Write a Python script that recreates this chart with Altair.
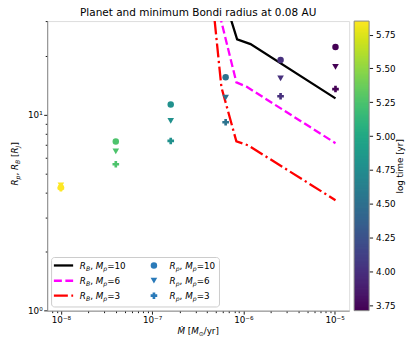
import altair as alt
import pandas as pd

# ---------------- data ----------------
mdot = [1.0e-8, 4.0e-8, 1.6e-7, 6.4e-7, 2.56e-6, 1.024e-5]
log_time = [5.85, 5.25, 4.78, 4.52, 4.00, 3.71]
rp_m10 = [4.25, 7.30, 11.25, 15.5, 19.0, 22.1]
rp_m6 = [4.35, 6.50, 9.30, 12.2, 15.3, 17.5]
rp_m3 = [4.22, 5.58, 7.34, 9.14, 12.4, 13.5]

rb10_mdot = [5.62e-7, 8.55e-7, 1.20e-6, 1.024e-5]
rb10 = [45.4, 24.2, 22.9, 12.1]
rb6_mdot = [4.47e-7, 8.39e-7, 1.08e-6, 1.024e-5]
rb6 = [47.9, 14.6, 13.9, 7.15]
rb3_mdot = [4.57e-7, 5.75e-7, 8.39e-7, 1.13e-6, 1.024e-5]
rb3 = [39.6, 13.8, 7.30, 6.97, 3.66]

LT_MIN, LT_MAX = 3.71, 5.85
cb_ticks = [3.75, 4.00, 4.25, 4.50, 4.75, 5.00, 5.25, 5.50, 5.75]
TITLE = "Planet and minimum Bondi radius at 0.08 AU"

# ---------------- layout ----------------
W, H = 302.7, 290.3
FONT = "DejaVu Sans"
FS = 8.8

x_ticks = [m * 10 ** e for e in range(-9, -4) for m in range(1, 10)]
x_ticks = [v for v in x_ticks if 10 ** -8.15 <= v <= 10 ** -4.84]
y_ticks = [1, 2, 3, 4, 5, 6, 7, 8, 9, 10, 20, 30]

major_test = "abs(log(datum.value)/LN10 - round(log(datum.value)/LN10)) < 0.001"
x_label = ("abs(datum.value/1e-8-1)<0.001 ? '10⁻⁸' : abs(datum.value/1e-7-1)<0.001 ? '10⁻⁷' : "
           "abs(datum.value/1e-6-1)<0.001 ? '10⁻⁶' : abs(datum.value/1e-5-1)<0.001 ? '10⁻⁵' : ''")
y_label = "abs(datum.value-1)<0.001 ? '10⁰' : abs(datum.value-10)<0.001 ? '10¹' : ''"

axis_common = dict(grid=False, title=None, domainColor="#888", domainWidth=1,
                   tickColor="black", tickWidth=0.9,
                   tickSize={"condition": {"test": major_test, "value": 3.5}, "value": 2},
                   labelFont=FONT, labelFontSize=FS, labelColor="black", labelPadding=1.5,
                   labelOverlap=False)

X = alt.X("mdot:Q", scale=alt.Scale(type="log", domain=[10 ** -8.15, 10 ** -4.84], nice=False),
          axis=alt.Axis(values=x_ticks, labelExpr=x_label, **axis_common))
Y = alt.Y("r:Q", scale=alt.Scale(type="log", domain=[1, 30], nice=False),
          axis=alt.Axis(values=y_ticks, labelExpr=y_label, **axis_common))

color_scale = alt.Scale(scheme="viridis", domain=[LT_MIN, LT_MAX], nice=False, zero=False)


def line_layer(xs, ys, color, dash):
    df = pd.DataFrame({"mdot": xs, "r": ys})
    kw = dict(color=color, strokeWidth=2.3, clip=True)
    if dash:
        kw["strokeDash"] = dash
    return alt.Chart(df).mark_line(**kw).encode(x=X, y=Y)


def point_layer(ys, shape, size):
    df = pd.DataFrame({"mdot": mdot, "r": ys, "lt": log_time})
    return alt.Chart(df).mark_point(filled=True, opacity=1, shape=shape, size=size).encode(
        x=X, y=Y, color=alt.Color("lt:Q", scale=color_scale, legend=None))


lines = [
    line_layer(rb10_mdot, rb10, "black", None),
    line_layer(rb6_mdot, rb6, "magenta", [8, 3.5]),
    line_layer(rb3_mdot, rb3, "red", [14, 3.5, 2.2, 3.5]),
]
points = [
    point_layer(rp_m10, "circle", 42),
    point_layer(rp_m6, "triangle-down", 44),
    point_layer(rp_m3, "cross", 44),
]

# ---------------- rich text (math-like labels) ----------------
WID = {"R": 0.695, "B": 0.686, "M": 0.863, "p": 0.635, "J": 0.295, ",": 0.318, " ": 0.318,
       "=": 0.838, "[": 0.39, "]": 0.39, "/": 0.337, "y": 0.592, "r": 0.411, "⊙": 0.80,
       "Ṁ": 0.863}


def tw(s, size):
    return sum(WID.get(c, 0.636) for c in s) * size


def rich(pieces, x, y, size, vertical=False):
    out = []
    for t, it, sub in pieces:
        s = size * 0.7 if sub else size
        off = size * 0.22 if sub else 0
        lead = tw(t[: len(t) - len(t.lstrip())], s)
        body = t.strip()
        if vertical:
            out.append(dict(px=x + off, py=y - lead, t=body, fs=s, it=it, rot=True))
            y -= tw(t, s)
        else:
            out.append(dict(px=x + lead, py=y + off, t=body, fs=s, it=it, rot=False))
            x += tw(t, s)
    return out


def width_of(pieces, size):
    return sum(tw(t, size * 0.7 if sub else size) for t, it, sub in pieces)


def lab(sub, mval):
    return [("R", True, False), (sub, True, True), (", ", False, False),
            ("M", True, False), ("p", True, True), ("=" + mval, False, False)]


row_y = [245.0, 260.3, 275.3]
masses = ["10", "6", "3"]
texts = []
for ry, mv in zip(row_y, masses):
    texts += rich(lab("B", mv), 32.7, ry + 3.2, FS)
    texts += rich(lab("p", mv), 122.7, ry + 3.2, FS)

xt = [("Ṁ", True, False), (" [", False, False), ("M", True, False), ("⊙", False, True),
      ("/yr]", False, False)]
texts += rich(xt, W / 2 - width_of(xt, FS) / 2, H + 23.0, FS)

yt = [("R", True, False), ("p", True, True), (", ", False, False), ("R", True, False),
      ("B", True, True), (" [", False, False), ("R", True, False), ("J", True, True),
      ("]", False, False)]
texts += rich(yt, -29.0, H / 2 + width_of(yt, FS) / 2 - 2, FS, vertical=True)

tdf = pd.DataFrame(texts)


def text_layer(italic, rot):
    d = tdf[(tdf.it == italic) & (tdf.rot == rot)]
    return alt.Chart(d).mark_text(
        font=FONT, fontStyle="italic" if italic else "normal", align="left",
        baseline="alphabetic", color="black", angle=270 if rot else 0,
    ).encode(
        x=alt.X("px:Q", scale=None, axis=None), y=alt.Y("py:Q", scale=None, axis=None),
        text="t:N", size=alt.Size("fs:Q", scale=None, legend=None))


text_layers = [text_layer(i, r) for i in (True, False) for r in (True, False)]

one = pd.DataFrame({"a": [0]})
title_mark = alt.Chart(pd.DataFrame({"t": [TITLE]})).mark_text(
    font=FONT, fontSize=10.5, align="center", baseline="middle", color="black"
).encode(x=alt.value(W / 2), y=alt.value(-8.0), text="t:N")

# ---------------- legend box ----------------
leg_box = alt.Chart(one).mark_rect(fill="white", fillOpacity=0.8, stroke="#cccccc",
                                   strokeWidth=1, cornerRadius=3).encode(
    x=alt.value(4.4), x2=alt.value(172.7), y=alt.value(237.0), y2=alt.value(286.6))

leg_items = []
for ry, col, dash in zip(row_y, ["black", "magenta", "red"], [None, [8, 3.5], [14, 3.5, 2.2, 3.5]]):
    kw = dict(color=col, strokeWidth=2.3)
    if dash:
        kw["strokeDash"] = dash
    leg_items.append(alt.Chart(one).mark_rule(**kw).encode(
        x=alt.value(6.7), x2=alt.value(26.0), y=alt.value(ry)))
for ry, shp, sz in zip(row_y, ["circle", "triangle-down", "cross"], [42, 44, 44]):
    leg_items.append(alt.Chart(one).mark_point(filled=True, opacity=1, shape=shp, size=sz,
                                               color="#2a7ab9").encode(
        x=alt.value(107.0), y=alt.value(ry)))

main = alt.layer(*lines, *points, leg_box, *leg_items, *text_layers, title_mark)

# ---------------- colorbar ----------------
N = 240
step = (LT_MAX - LT_MIN) / N
CB_X0, CB_X1 = 307.7, 322.7
cbar = alt.Chart(alt.sequence(0, N, as_="i")).transform_calculate(
    v=f"{LT_MIN} + datum.i*{step}",
    v2=f"min({LT_MAX}, {LT_MIN} + (datum.i+1.7)*{step})",
).mark_rect(strokeWidth=0).encode(
    x=alt.value(CB_X0), x2=alt.value(CB_X1),
    y=alt.Y("v:Q", scale=alt.Scale(domain=[LT_MIN, LT_MAX], nice=False, zero=False),
            axis=alt.Axis(orient="right", offset=CB_X1 - W, values=cb_ticks, format=".2f",
                          domain=False, grid=False, tickColor="black", tickSize=3.5,
                          tickWidth=0.9, labelFont=FONT, labelFontSize=FS, labelColor="black",
                          labelPadding=3, labelOverlap=False, title="log time [yr]",
                          titleAngle=270, titleFont=FONT, titleFontSize=FS,
                          titleFontWeight="normal", titleColor="black", titlePadding=9)),
    y2="v2:Q",
    color=alt.Color("v:Q", scale=color_scale, legend=None),
)
cb_frame = alt.Chart(one).mark_rect(fill=None, stroke="#888", strokeWidth=1).encode(
    x=alt.value(CB_X0), x2=alt.value(CB_X1), y=alt.value(0), y2=alt.value(H))

chart = alt.layer(main, cbar, cb_frame).resolve_scale(y="independent").properties(
    width=W, height=H,
    autosize=alt.AutoSizeParams(type="none"),
    padding={"left": 39.3, "top": 12.7, "right": 58, "bottom": 27},
).configure_view(stroke="#888", strokeWidth=1).configure(background="white")

chart.save("out.html", embed_options={"renderer": "svg", "actions": False})
